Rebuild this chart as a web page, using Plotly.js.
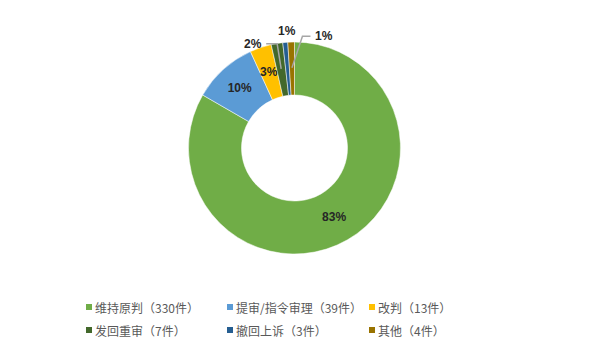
<!DOCTYPE html>
<html><head><meta charset="utf-8">
<script src="https://cdn.plot.ly/plotly-3.0.1.min.js"></script>
<style>html,body{margin:0;padding:0;background:#fff;}#chart{width:589px;height:352px;}</style>
</head><body><div id="chart"></div>
<script>
const categories = ["维持原判", "提审/指令审理", "改判", "发回重审", "撤回上诉", "其他"];
const counts = [330, 39, 13, 7, 3, 4];
const colors = ["#70AD47", "#5B9BD5", "#FFC000", "#43682B", "#255E91", "#997300"];
// "inside" = drawn by pie; "ring" = label at mid-ring; "lead" = outside label (optionally with elbow leader line)
const labelModes = ["inside", "inside", "ring", "lead", "lead", "lead"];
// pixel offsets from the slice's mid-ring point: label centre, elbow point, end of horizontal segment
const leadLabel = [null, null, null, [-28, -25], [0, -37], [32.5, -31.5]];
const leadElbow = [null, null, null, [-4, -25], null, [10.5, -31.5]];
const leadEnd   = [null, null, null, [-15, -25], null, [18.5, -31.5]];

const total = counts.reduce((a, b) => a + b, 0);
const pctText = counts.map(v => Math.round(v / total * 100) + "%");
const legendLabels = categories.map((c, i) => c + "（" + counts[i] + "件）");

const LABEL_FONT = {family: "Liberation Sans, Noto Sans CJK SC", size: 12, color: "#262626", weight: "bold"};
const LEGEND_FONT = {family: "Noto Sans CJK SC", size: 12, color: "#595959"};

const trace = {
  type: "pie",
  labels: legendLabels,
  values: counts,
  hole: 0.5,
  sort: false,
  direction: "clockwise",
  rotation: 0,
  marker: {colors: colors, line: {color: "#ffffff", width: 0.5}},
  text: pctText,
  texttemplate: labelModes.map(m => m === "inside" ? "%{text}" : ""),
  textposition: labelModes.map(m => m === "inside" ? "inside" : "none"),
  insidetextorientation: "horizontal",
  textfont: LABEL_FONT,
  insidetextfont: LABEL_FONT,
  domain: {x: [0, 1], y: [0, 1]},
  automargin: false,
  showlegend: false,
  hoverinfo: "label+percent"
};

const W = 589, H = 352, M = {l: 0, r: 0, t: 42, b: 98};
const plotW = W - M.l - M.r, plotH = H - M.t - M.b;
const R = Math.min(plotW, plotH) / 2;
const toPX = px => (px - M.l) / plotW;
const toPY = py => (H - M.b - py) / plotH;
const cxPix = M.l + plotW / 2, cyPix = M.t + plotH / 2;

const annotations = [];
const shapes = [];
let cum = 0;
counts.forEach((v, i) => {
  const theta = 2 * Math.PI * (cum + v / 2) / total;
  cum += v;
  const mode = labelModes[i];
  if (mode === "inside") return;
  const rr = R * 0.758;
  const sx = cxPix + rr * Math.sin(theta);
  const sy = cyPix - rr * Math.cos(theta);
  if (mode === "ring") {
    annotations.push({xref: "paper", yref: "paper", x: toPX(sx), y: toPY(sy), xanchor: "center", yanchor: "middle",
      text: pctText[i], showarrow: false, font: LABEL_FONT});
    return;
  }
  const lo = leadLabel[i];
  annotations.push({xref: "paper", yref: "paper", x: toPX(sx + lo[0]), y: toPY(sy + lo[1]),
    xanchor: "center", yanchor: "middle", text: pctText[i], showarrow: false, font: LABEL_FONT});
  if (leadElbow[i]) {
    const e = leadElbow[i], h = leadEnd[i];
    const path = "M " + toPX(sx) + "," + toPY(sy) +
      " L " + toPX(sx + e[0]) + "," + toPY(sy + e[1]) +
      " L " + toPX(sx + h[0]) + "," + toPY(sy + h[1]);
    shapes.push({type: "path", xref: "paper", yref: "paper", path: path, line: {color: "#A6A6A6", width: 1.5}});
  }
});

// legend: 3 columns x 2 rows, small square marker + text
const legendColX = [89, 230, 372];
const legendRowY = [307, 330];
const markerHalf = 3;
legendLabels.forEach((lab, i) => {
  const cx = legendColX[i % 3], cy = legendRowY[Math.floor(i / 3)];
  shapes.push({type: "rect", xref: "paper", yref: "paper",
    x0: toPX(cx - markerHalf), x1: toPX(cx + markerHalf),
    y0: toPY(cy + markerHalf), y1: toPY(cy - markerHalf),
    fillcolor: colors[i], line: {width: 0}});
  annotations.push({xref: "paper", yref: "paper", x: toPX(cx + 4), y: toPY(cy),
    xanchor: "left", yanchor: "middle", text: lab, showarrow: false, font: LEGEND_FONT});
});

const layout = {
  width: W, height: H,
  margin: M,
  paper_bgcolor: "#ffffff",
  plot_bgcolor: "#ffffff",
  showlegend: false,
  annotations: annotations,
  shapes: shapes
};

Plotly.newPlot("chart", [trace], layout, {displayModeBar: false, staticPlot: true});
</script>
</body></html>
